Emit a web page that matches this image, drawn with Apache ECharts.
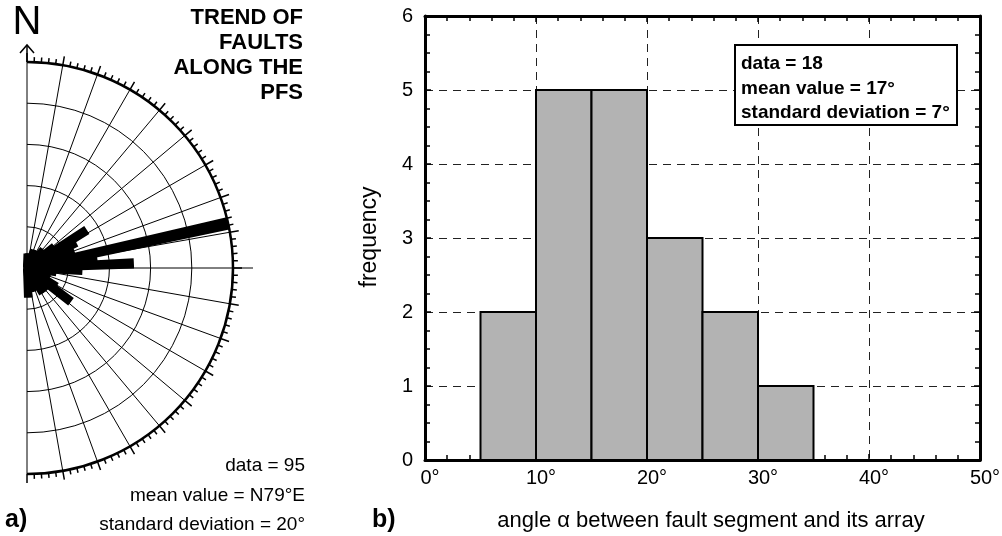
<!DOCTYPE html>
<html>
<head>
<meta charset="utf-8">
<script src="https://cdn.jsdelivr.net/npm/echarts@6/dist/echarts.min.js"></script>
<style>
  html, body { margin: 0; padding: 0; background: #fff; }
  #chart { width: 1002px; height: 536px; }
</style>
</head>
<body>
<div id="chart"></div>
<script>
// ---- a) rose diagram of fault trends (5° bins, N through E to S) ----
const roseBinStart = [0, 5, 10, 15, 20, 25, 30, 35, 40, 45, 50, 55, 60, 65, 70, 75, 80, 85,
                      90, 95, 100, 105, 110, 115, 120, 125, 130, 135, 140, 145, 150, 155, 160, 165, 170, 175];
const roseValues   = [1, 1, 1, 1, 1.5, 1, 1.5, 1.5, 2, 2, 3, 6.5, 5, 3, 4.5, 19.6, 6.5, 10,
                      5, 2.5, 2, 1.5, 1.5, 2, 3, 5, 2, 2, 2.5, 2.5, 1.5, 1.5, 1.5, 2, 2, 2.5];
const roseMax = 20;
const roseStats = ['data = 95', 'mean value = N79°E', 'standard deviation = 20°'];
const roseTitle = ['TREND OF', 'FAULTS', 'ALONG THE', 'PFS'];

// ---- b) histogram of angle alpha ----
const histBinStart = [5, 10, 15, 20, 25, 30];
const histBinWidth = 5;
const histCounts   = [2, 5, 5, 3, 2, 1];
const histStats = ['data = 18', 'mean value = 17°', 'standard deviation = 7°'];

const FONT = "'Liberation Sans', Arial, Helvetica, sans-serif";
const cx = 27, cy = 268, R = 206;

const chart = echarts.init(document.getElementById('chart'), null, { renderer: 'canvas' });

const roseCats = roseBinStart.map(s => s + '–' + (s + 5) + '°');
const histData = histBinStart.map((s, i) => [s, s + histBinWidth, histCounts[i]]);

const hidden = {
  axisLine: { show: false }, axisTick: { show: false },
  axisLabel: { show: false }, splitLine: { show: false }
};

const black = '#000';
const frameAxis = {
  axisLine: { show: true, onZero: false, lineStyle: { color: black, width: 3 } },
  axisTick: { show: true, inside: true, length: 6, lineStyle: { color: black, width: 1.5 } },
  minorTick: { show: true, length: 5, lineStyle: { color: black, width: 1.5 } }
};
const dashed = { show: true, lineStyle: { color: '#222', width: 1, type: [8, 6] } };

const option = {
  animation: false,
  backgroundColor: '#fff',
  polar: [
    { center: [cx, cy], radius: R },
    { center: [cx, cy], radius: R }
  ],
  angleAxis: [
    {
      polarIndex: 0, type: 'value', min: 0, max: 180, interval: 10,
      startAngle: 90, endAngle: -90, clockwise: true,
      axisLine: { show: true, lineStyle: { color: black, width: 2.5 } },
      axisTick: { show: true, length: 9, lineStyle: { color: black, width: 1.5 } },
      minorTick: { show: true, splitNumber: 5, length: 5, lineStyle: { color: black, width: 1.5 } },
      splitLine: { show: true, lineStyle: { color: black, width: 1 } },
      axisLabel: { show: false }
    },
    Object.assign({
      polarIndex: 1, type: 'category', data: roseCats,
      startAngle: 90, endAngle: -90, clockwise: true
    }, hidden)
  ],
  radiusAxis: [
    Object.assign({ polarIndex: 0, type: 'value', min: 0, max: roseMax, interval: 4 }, hidden,
      { splitLine: { show: true, lineStyle: { color: black, width: 1 } } }),
    Object.assign({ polarIndex: 1, type: 'value', min: 0, max: roseMax }, hidden)
  ],
  grid: { left: 425, right: 22, top: 16, bottom: 76, outerBoundsMode: 'none' },
  xAxis: [
    Object.assign({
      type: 'value', position: 'bottom', min: 0, max: 50, interval: 10,
      axisLabel: {
        color: black, fontSize: 20, fontFamily: FONT, margin: 8,
        padding: [0, 0, 0, 10], formatter: v => v + '°'
      },
      splitLine: dashed
    }, frameAxis, { minorTick: Object.assign({ splitNumber: 5 }, frameAxis.minorTick) }),
    Object.assign({
      type: 'value', position: 'top', min: 0, max: 50, interval: 10,
      axisLabel: { show: false }, splitLine: { show: false }
    }, frameAxis, { minorTick: Object.assign({ splitNumber: 5 }, frameAxis.minorTick) })
  ],
  yAxis: [
    Object.assign({
      type: 'value', position: 'left', min: 0, max: 6, interval: 1,
      axisLabel: { color: black, fontSize: 20, fontFamily: FONT, margin: 12 },
      splitLine: dashed
    }, frameAxis, { minorTick: Object.assign({ splitNumber: 4 }, frameAxis.minorTick) }),
    Object.assign({
      type: 'value', position: 'right', min: 0, max: 6, interval: 1,
      axisLabel: { show: false }, splitLine: { show: false }
    }, frameAxis, { minorTick: Object.assign({ splitNumber: 4 }, frameAxis.minorTick) })
  ],
  series: [
    {
      // petals: narrow sectors with a heavy outline give the thick radial strokes
      type: 'bar', coordinateSystem: 'polar', polarIndex: 1,
      data: roseValues, barCategoryGap: '75%', silent: true,
      itemStyle: { color: black, borderColor: black, borderWidth: 8 }
    },
    {
      type: 'custom', xAxisIndex: 0, yAxisIndex: 0, silent: true,
      data: histData,
      encode: { x: [0, 1], y: 2 },
      renderItem: (params, api) => {
        const p0 = api.coord([api.value(0), 0]);
        const p1 = api.coord([api.value(1), api.value(2)]);
        return {
          type: 'rect',
          shape: { x: p0[0], y: p1[1], width: p1[0] - p0[0], height: p0[1] - p1[1] },
          style: { fill: '#b3b3b3', stroke: black, lineWidth: 2 }
        };
      }
    }
  ],
  graphic: [
    // north arrow and label
    { type: 'line', z: 50, shape: { x1: cx, y1: cy - R, x2: cx, y2: cy - R - 17 },
      style: { stroke: black, lineWidth: 1.5 } },
    { type: 'polyline', z: 50, shape: { points: [[cx - 7, cy - R - 9], [cx, cy - R - 17], [cx + 7, cy - R - 9]] },
      style: { stroke: black, lineWidth: 1.5, fill: null } },
    { type: 'text', z: 50, style: { text: 'N', x: cx, y: 23, align: 'center', verticalAlign: 'middle',
      fontSize: 40, fontFamily: FONT, fill: black } },
    // east reference line beyond the rim
    { type: 'line', z: 50, shape: { x1: cx + R, y1: cy, x2: cx + R + 20, y2: cy },
      style: { stroke: black, lineWidth: 1 } },
    // panel a title
    { type: 'text', z: 50, style: { text: roseTitle.join('\n'), x: 303, y: 5, align: 'right',
      verticalAlign: 'top', lineHeight: 25, fontSize: 22, fontWeight: 'bold', fontFamily: FONT, fill: black } },
    // panel a statistics
    { type: 'text', z: 50, style: { text: roseStats[0], x: 305, y: 466, align: 'right', verticalAlign: 'middle',
      fontSize: 19, fontFamily: FONT, fill: black } },
    { type: 'text', z: 50, style: { text: roseStats[1], x: 305, y: 496, align: 'right', verticalAlign: 'middle',
      fontSize: 19, fontFamily: FONT, fill: black } },
    { type: 'text', z: 50, style: { text: roseStats[2], x: 305, y: 525, align: 'right', verticalAlign: 'middle',
      fontSize: 19, fontFamily: FONT, fill: black } },
    // panel letters
    { type: 'text', z: 50, style: { text: 'a)', x: 5, y: 520, verticalAlign: 'middle',
      fontSize: 25, fontWeight: 'bold', fontFamily: FONT, fill: black } },
    { type: 'text', z: 50, style: { text: 'b)', x: 372, y: 520, verticalAlign: 'middle',
      fontSize: 25, fontWeight: 'bold', fontFamily: FONT, fill: black } },
    // histogram axis titles
    { type: 'text', z: 50, rotation: Math.PI / 2, x: 370, y: 237,
      style: { text: 'frequency', x: 0, y: 0, align: 'center', verticalAlign: 'middle',
        fontSize: 23, fontFamily: FONT, fill: black } },
    { type: 'text', z: 50, style: { text: 'angle α between fault segment and its array', x: 711, y: 521,
      align: 'center', verticalAlign: 'middle', fontSize: 22, fontFamily: FONT, fill: black } },
    // histogram statistics box
    { type: 'rect', z: 100, shape: { x: 735, y: 45, width: 222, height: 80 },
      style: { fill: '#fff', stroke: black, lineWidth: 2 } },
    { type: 'text', z: 101, style: { text: histStats.join('\n'), x: 741, y: 52, verticalAlign: 'top',
      lineHeight: 24.5, fontSize: 19, fontWeight: 'bold', fontFamily: FONT, fill: black } }
  ]
};

chart.setOption(option);
</script>
</body>
</html>
